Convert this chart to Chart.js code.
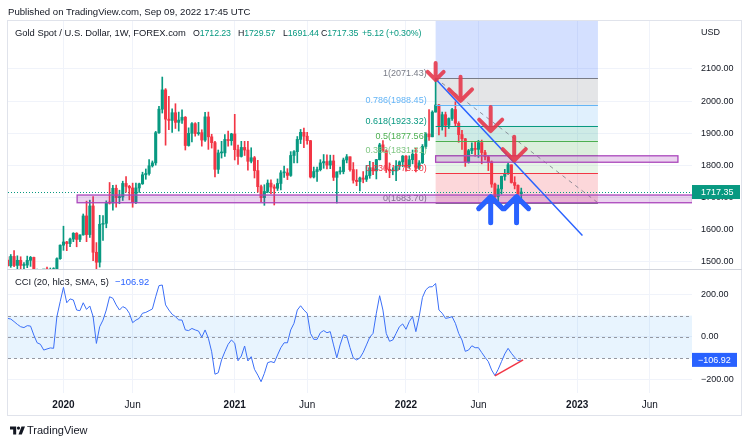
<!DOCTYPE html>
<html>
<head>
<meta charset="utf-8">
<title>Gold Spot / U.S. Dollar, 1W</title>
<script src="https://cdn.jsdelivr.net/npm/chart.js@4.4.0/dist/chart.umd.min.js"></script>
<style>
  html, body { margin: 0; padding: 0; background: #fff; }
  body { position: relative; width: 748px; height: 443px; overflow: hidden;
         font-family: 'Liberation Sans', Arial, sans-serif; color: #131722; }
  canvas { position: absolute; left: 0; }
  #priceChart { top: 0; }
  #cciChart { top: 270px; }
  .t { position: absolute; white-space: nowrap; font-size: 9.4px; line-height: 12px; z-index: 2; }
  .v { font-size: 8.8px; letter-spacing: -0.1px; }
  .g { color: #089981; }
  .frame { position: absolute; left: 7px; top: 20px; width: 735px; height: 396px; box-sizing: border-box;
           border: 1px solid #e0e3eb; z-index: 1; pointer-events: none; }
  .sep { position: absolute; left: 7px; top: 269px; width: 735px; height: 1px; background: #d1d4dc; z-index: 1; }
</style>
</head>
<body>
<canvas id="priceChart" width="748" height="270"></canvas>
<canvas id="cciChart" width="748" height="173"></canvas>
<div class="frame"></div>
<div class="sep"></div>

<div class="t" style="left:8px;top:6px;font-size:9.6px">Published on TradingView.com, Sep 09, 2022 17:45 UTC</div>
<div class="t" style="left:15px;top:27px">Gold Spot / U.S. Dollar, 1W, FOREX.com</div>
<div class="t v" style="left:193px;top:27px">O<span class="g">1712.23</span></div>
<div class="t v" style="left:238px;top:27px">H<span class="g">1729.57</span></div>
<div class="t v" style="left:283px;top:27px">L<span class="g">1691.44</span></div>
<div class="t v" style="left:321px;top:27px">C<span class="g">1717.35</span></div>
<div class="t v g" style="left:362px;top:27px">+5.12 (+0.30%)</div>
<div class="t" style="left:15px;top:276px">CCI (20, hlc3, SMA, 5)</div>
<div class="t" style="left:115px;top:276px;color:#2962ff">−106.92</div>
<div class="t" style="left:701px;top:26px;font-size:9px">USD</div>
<div class="t" style="left:10px;top:424px;font-size:11px;line-height:13px">
  <svg width="15" height="9" viewBox="0 0 17 9" style="vertical-align:-1px;margin-right:2px">
    <path d="M0 0H7V9H3.6V3.4H0Z" fill="#131722"/>
    <circle cx="9.6" cy="1.8" r="1.8" fill="#131722"/>
    <path d="M13 0H17L13.4 9H9.6Z" fill="#131722"/>
  </svg>TradingView</div>

<script>
// weekly bars, x = days counted from 1 Jan 2020
const weekStart = -114; // Mon 9 Sep 2019

const opens = [
  1506, 1488, 1517, 1489, 1505, 1489, 1490, 1505, 1514, 1459,
  1468, 1462, 1463, 1460, 1476, 1479, 1510, 1552, 1562, 1557,
  1571, 1589, 1570, 1584, 1643, 1585, 1674, 1530, 1499, 1617,
  1620, 1684, 1683, 1729, 1700, 1702, 1744, 1735, 1730, 1685,
  1730, 1743, 1771, 1775, 1799, 1808, 1902, 1975, 2035, 1944,
  1940, 1964, 1934, 1941, 1950, 1862, 1900, 1930, 1899, 1902,
  1879, 1951, 1889, 1871, 1788, 1839, 1839, 1881, 1877, 1898,
  1849, 1828, 1856, 1848, 1813, 1824, 1784, 1734, 1700, 1719,
  1745, 1733, 1729, 1744, 1777, 1777, 1769, 1831, 1843, 1881,
  1903, 1891, 1877, 1764, 1781, 1787, 1808, 1812, 1801, 1814,
  1763, 1780, 1781, 1817, 1827, 1787, 1754, 1750, 1761, 1757,
  1768, 1793, 1783, 1818, 1864, 1846, 1788, 1783, 1783, 1798,
  1811, 1829, 1797, 1818, 1835, 1791, 1808, 1859, 1898, 1889,
  1966, 1988, 1921, 1958, 1925, 1946, 1974, 1931, 1896, 1883,
  1811, 1846, 1853, 1850, 1871, 1840, 1827, 1811, 1742, 1703,
  1727, 1766, 1775, 1802, 1747, 1738, 1712.23
];
const highs = [
  1516, 1523, 1535, 1519, 1516, 1498, 1518, 1517, 1515, 1478,
  1475, 1466, 1484, 1481, 1482, 1513, 1553, 1611, 1564, 1574,
  1591, 1591, 1584, 1649, 1689, 1692, 1703, 1560, 1645, 1644,
  1690, 1747, 1738, 1739, 1723, 1751, 1765, 1738, 1745, 1745,
  1745, 1779, 1789, 1818, 1814, 1906, 1984, 2075, 2039, 2015,
  1976, 1992, 1966, 1973, 1952, 1917, 1933, 1933, 1934, 1911,
  1965, 1966, 1897, 1875, 1848, 1875, 1896, 1907, 1900, 1959,
  1863, 1875, 1875, 1875, 1855, 1828, 1816, 1739, 1740, 1755,
  1755, 1740, 1758, 1784, 1798, 1790, 1843, 1846, 1890, 1912,
  1916, 1903, 1878, 1795, 1795, 1818, 1834, 1833, 1832, 1832,
  1780, 1795, 1823, 1834, 1827, 1809, 1787, 1764, 1781, 1800,
  1813, 1810, 1819, 1869, 1877, 1849, 1808, 1793, 1815, 1814,
  1831, 1831, 1830, 1848, 1853, 1815, 1865, 1902, 1974, 1970,
  2071.43, 1990, 1966, 1966, 1948, 1978, 1998, 1936, 1909, 1884,
  1850, 1870, 1874, 1878, 1879, 1847, 1829, 1814, 1745, 1739,
  1767, 1788, 1807, 1802, 1765, 1740, 1729.57
];
const lows = [
  1485, 1483, 1485, 1459, 1474, 1474, 1482, 1486, 1456, 1445,
  1456, 1452, 1456, 1455, 1470, 1477, 1508, 1536, 1535, 1547,
  1563, 1547, 1563, 1583, 1563, 1576, 1504, 1451, 1484, 1567,
  1606, 1680, 1661, 1670, 1681, 1691, 1717, 1693, 1670, 1681,
  1716, 1741, 1757, 1770, 1795, 1801, 1900, 1963, 1863, 1911,
  1903, 1915, 1907, 1931, 1848, 1860, 1873, 1891, 1894, 1860,
  1875, 1850, 1854, 1764, 1775, 1823, 1828, 1860, 1863, 1817,
  1803, 1826, 1831, 1785, 1808, 1761, 1717, 1687, 1676, 1715,
  1712, 1677, 1722, 1724, 1763, 1756, 1766, 1808, 1808, 1868,
  1855, 1866, 1761, 1761, 1750, 1783, 1791, 1789, 1790, 1753,
  1683, 1773, 1774, 1808, 1782, 1745, 1737, 1721, 1746, 1750,
  1760, 1771, 1758, 1817, 1842, 1778, 1762, 1771, 1753, 1787,
  1796, 1782, 1791, 1805, 1780, 1788, 1806, 1852, 1878, 1889,
  1966, 1895, 1910, 1890, 1915, 1940, 1921, 1872, 1850, 1797,
  1807, 1837, 1829, 1825, 1805, 1817, 1784, 1732, 1697, 1681,
  1711, 1754, 1772, 1745, 1727, 1688, 1691.44
];
const closes = [
  1488, 1517, 1489, 1505, 1489, 1490, 1505, 1514, 1459, 1468,
  1462, 1463, 1460, 1476, 1479, 1510, 1552, 1562, 1557, 1571,
  1589, 1570, 1584, 1643, 1585, 1674, 1530, 1499, 1617, 1620,
  1684, 1683, 1729, 1700, 1702, 1744, 1735, 1730, 1685, 1730,
  1743, 1771, 1775, 1799, 1808, 1902, 1975, 2035, 1944, 1940,
  1964, 1934, 1941, 1950, 1862, 1900, 1930, 1899, 1902, 1879,
  1951, 1889, 1871, 1788, 1839, 1839, 1881, 1877, 1898, 1849,
  1828, 1856, 1848, 1813, 1824, 1784, 1734, 1700, 1719, 1745,
  1733, 1729, 1744, 1777, 1777, 1769, 1831, 1843, 1881, 1903,
  1891, 1877, 1764, 1781, 1787, 1808, 1812, 1801, 1814, 1763,
  1780, 1781, 1817, 1827, 1787, 1754, 1750, 1761, 1757, 1768,
  1793, 1783, 1818, 1864, 1846, 1788, 1783, 1783, 1798, 1811,
  1829, 1797, 1818, 1835, 1791, 1808, 1859, 1898, 1889, 1966,
  1988, 1921, 1958, 1925, 1946, 1974, 1931, 1896, 1883, 1811,
  1846, 1853, 1850, 1871, 1840, 1827, 1811, 1742, 1703, 1727,
  1766, 1775, 1802, 1747, 1738, 1712, 1717.35
];
const cci = [
  87, 84, 72, 59, 48, 44, 53, 51, 9, -27,
  -34, -61, -56, -51, -53, 95, 165, 232, 160, 178,
  173, 126, 123, 160, 129, 145, 95, -30, 48, 79,
  126, 188, 181, 150, 126, 142, 134, 111, 67, 79,
  87, 111, 115, 123, 131, 188, 240, 243, 150, 126,
  106, 95, 80, 79, 33, 30, 40, 33, 28, -1,
  33, -6, -69, -174, -167, -107, -69, -34, -14, -29,
  -111, -89, -42, -112, -92, -151, -178, -209, -170, -120,
  -115, -120, -84, -50, -27, -27, 33, 64, 126, 146,
  126, 111, 17, -11, -11, 20, 30, 20, 25, -37,
  -97, -37, 10, 5, -50, -98, -107, -98, -72, -37,
  -1, 17, 111, 193, 126, 17, -20, -14, 17, 48,
  61, 36, 72, 95, 25, 95, 185, 220, 234, 235,
  250, 126, 111, 87, 90, 95, 64, 17, -14, -67,
  -61, -41, -50, -50, -73, -95, -115, -154, -180, -151,
  -115, -79, -53, -76, -95, -111, -106.92
];

const xTicks = [5, 152, 369, 523, 733, 887, 1097, 1251];
const xTickLabels = ['2020', 'Jun', '2021', 'Jun', '2022', 'Jun', '2023', 'Jun'];
const priceTicks = [1500, 1600, 1700, 1800, 1900, 2000, 2100];
const cciTicks = [200, 0, -200];
const lastPrice = 1717.35;
const lastCci = -106.92;

// drawings on the chart
const fibLevels = [1.618, 1, 0.786, 0.618, 0.5, 0.382, 0.236, 0];
const fibLabels = ['', '1(2071.43)', '0.786(1988.45)', '0.618(1923.32)', '0.5(1877.56)', '0.382(1831.81)', '0.236(1775.20)', '0(1683.70)'];
const fibHigh = 2071.43, fibLow = 1683.70;
const fibDays = [796, 1141];
const zoneLower = [34, 1342, 1708, 1684]; // from, to, top, bottom
const zoneUpper = [796, 1311, 1830, 1810];
const trendLine = [[796, 2069], [1108, 1582]];
const sellArrows = [[796, 2066], [849, 2001], [913, 1907], [963, 1815]];
const buyArrows = [[913, 1703], [968, 1703]];
const cciDivergence = [[922, -182], [982, -107]];

const UP = '#089981', DOWN = '#f23645', GRID = '#f0f3fa';
const fibColors = ['#2962ff', '#787b86', '#64b5f6', '#089981', '#4caf50', '#81c784', '#f23645', '#787b86'];
const X_MIN = -112.9, X_MAX = 1340.9;

Chart.defaults.font.family = "'Liberation Sans', Arial, sans-serif";
Chart.defaults.color = '#131722';

const days = opens.map((_, i) => weekStart + 7 * i);
const candleColors = opens.map((o, i) => closes[i] >= o ? UP : DOWN);

function rgba(hex, a) {
  const n = parseInt(hex.slice(1), 16);
  return `rgba(${n >> 16},${(n >> 8) & 255},${n & 255},${a})`;
}
function fibPrice(l) { return fibLow + l * (fibHigh - fibLow); }

function arrow(ctx, x, y, len, arm, dir) {
  ctx.beginPath();
  ctx.moveTo(x, y - dir * len); ctx.lineTo(x, y);
  ctx.moveTo(x - arm, y - dir * arm); ctx.lineTo(x, y); ctx.lineTo(x + arm, y - dir * arm);
  ctx.stroke();
}

function fixedY(width) {
  return s => { s.width = width; s.paddingTop = 0; s.paddingBottom = 0; };
}

const priceDrawings = {
  id: 'priceDrawings',
  beforeDatasetsDraw(chart) {
    const { ctx, chartArea: a, scales: { x, y } } = chart;
    ctx.save();
    ctx.beginPath(); ctx.rect(a.left, a.top, a.width, a.height); ctx.clip();
    const x1 = x.getPixelForValue(fibDays[0]), x2 = x.getPixelForValue(fibDays[1]);
    for (let k = 0; k < fibLevels.length - 1; k++) {
      const yt = y.getPixelForValue(fibPrice(fibLevels[k]));
      const yb = y.getPixelForValue(fibPrice(fibLevels[k + 1]));
      ctx.fillStyle = rgba(fibColors[k], 0.2);
      ctx.fillRect(x1, yt, x2 - x1, yb - yt);
    }
    // last price dotted line
    const yl = Math.round(y.getPixelForValue(lastPrice)) + 0.5;
    ctx.strokeStyle = UP; ctx.lineWidth = 1; ctx.setLineDash([1, 2]);
    ctx.beginPath(); ctx.moveTo(a.left, yl); ctx.lineTo(a.right, yl); ctx.stroke();
    ctx.restore();
  },
  afterDatasetsDraw(chart) {
    const { ctx, chartArea: a, scales: { x, y } } = chart;
    ctx.save();
    ctx.beginPath(); ctx.rect(a.left, a.top, a.width, a.height); ctx.clip();
    const x1 = x.getPixelForValue(fibDays[0]), x2 = x.getPixelForValue(fibDays[1]);

    // fib level lines and labels
    ctx.font = "9px 'Liberation Sans', Arial, sans-serif";
    ctx.textAlign = 'right'; ctx.textBaseline = 'alphabetic';
    for (let k = 1; k < fibLevels.length; k++) {
      const yy = Math.round(y.getPixelForValue(fibPrice(fibLevels[k]))) + 0.5;
      ctx.strokeStyle = fibColors[k]; ctx.lineWidth = 1;
      ctx.beginPath(); ctx.moveTo(x1, yy); ctx.lineTo(x2, yy); ctx.stroke();
      ctx.fillStyle = fibColors[k];
      ctx.fillText(fibLabels[k], x1 - 9, yy - 3);
    }
    // fib diagonal
    ctx.strokeStyle = rgba('#787b86', 0.8); ctx.setLineDash([4, 4]);
    ctx.beginPath();
    ctx.moveTo(x1, y.getPixelForValue(fibHigh));
    ctx.lineTo(x2, y.getPixelForValue(fibLow));
    ctx.stroke();
    ctx.setLineDash([]);

    // zones
    [zoneLower, zoneUpper].forEach(z => {
      const zx1 = x.getPixelForValue(z[0]), zx2 = x.getPixelForValue(z[1]);
      const zy1 = y.getPixelForValue(z[2]), zy2 = y.getPixelForValue(z[3]);
      ctx.fillStyle = 'rgba(156,39,176,0.2)';
      ctx.fillRect(zx1, zy1, zx2 - zx1, zy2 - zy1);
      ctx.strokeStyle = '#ab47bc'; ctx.lineWidth = 1.3;
      ctx.strokeRect(zx1, zy1, zx2 - zx1, zy2 - zy1);
    });

    // trend line
    ctx.strokeStyle = '#2962ff'; ctx.lineWidth = 1.5;
    ctx.beginPath();
    ctx.moveTo(x.getPixelForValue(trendLine[0][0]), y.getPixelForValue(trendLine[0][1]));
    ctx.lineTo(x.getPixelForValue(trendLine[1][0]), y.getPixelForValue(trendLine[1][1]));
    ctx.stroke();

    // arrows
    ctx.lineCap = 'round'; ctx.lineJoin = 'round';
    ctx.strokeStyle = 'rgba(229,57,76,0.9)'; ctx.lineWidth = 4;
    sellArrows.forEach((p, k) => {
      const big = k > 0;
      arrow(ctx, x.getPixelForValue(p[0]), y.getPixelForValue(p[1]), big ? 24 : 17, big ? 11.5 : 8, 1);
    });
    ctx.strokeStyle = '#2962ff'; ctx.lineWidth = 5;
    buyArrows.forEach(p => {
      arrow(ctx, x.getPixelForValue(p[0]), y.getPixelForValue(p[1]), 26, 12, -1);
    });
    ctx.restore();
  },
  afterDraw(chart) {
    const { ctx, chartArea: a, scales: { y } } = chart;
    const yy = y.getPixelForValue(lastPrice);
    ctx.save();
    ctx.fillStyle = UP;
    ctx.fillRect(a.right, yy - 7, 48, 14);
    ctx.fillStyle = '#fff';
    ctx.font = "9px 'Liberation Sans', Arial, sans-serif";
    ctx.textAlign = 'left'; ctx.textBaseline = 'middle';
    ctx.fillText(lastPrice.toFixed(2), a.right + 9, yy + 0.5);
    ctx.restore();
  }
};

const cciDrawings = {
  id: 'cciDrawings',
  beforeDatasetsDraw(chart) {
    const { ctx, chartArea: a, scales: { y } } = chart;
    const yt = y.getPixelForValue(100), yb = y.getPixelForValue(-100);
    ctx.save();
    ctx.fillStyle = 'rgba(33,150,243,0.1)';
    ctx.fillRect(a.left, yt, a.width, yb - yt);
    ctx.strokeStyle = '#9598a1'; ctx.lineWidth = 1; ctx.setLineDash([3, 3]);
    [100, 0, -100].forEach(v => {
      const yy = Math.round(y.getPixelForValue(v)) + 0.5;
      ctx.beginPath(); ctx.moveTo(a.left, yy); ctx.lineTo(a.right, yy); ctx.stroke();
    });
    ctx.restore();
  },
  afterDatasetsDraw(chart) {
    const { ctx, scales: { x, y } } = chart;
    ctx.save();
    ctx.strokeStyle = '#f23645'; ctx.lineWidth = 1.5;
    ctx.beginPath();
    ctx.moveTo(x.getPixelForValue(cciDivergence[0][0]), y.getPixelForValue(cciDivergence[0][1]));
    ctx.lineTo(x.getPixelForValue(cciDivergence[1][0]), y.getPixelForValue(cciDivergence[1][1]));
    ctx.stroke();
    ctx.restore();
  },
  afterDraw(chart) {
    const { ctx, chartArea: a, scales: { y } } = chart;
    const yy = y.getPixelForValue(lastCci);
    ctx.save();
    ctx.fillStyle = '#2962ff';
    ctx.fillRect(a.right, yy - 7, 45, 14);
    ctx.fillStyle = '#fff';
    ctx.font = "9px 'Liberation Sans', Arial, sans-serif";
    ctx.textAlign = 'left'; ctx.textBaseline = 'middle';
    ctx.fillText('−' + Math.abs(lastCci).toFixed(2), a.right + 6, yy + 0.5);
    ctx.restore();
  }
};

const xScaleBase = {
  type: 'linear', min: X_MIN, max: X_MAX, offset: false,
  afterBuildTicks: s => { s.ticks = xTicks.map(v => ({ value: v })); },
  grid: { color: GRID, drawTicks: false, offset: false },
  border: { display: false }
};

new Chart(document.getElementById('priceChart'), {
  type: 'bar',
  data: {
    datasets: [
      {
        data: days.map((d, i) => ({ x: d, y: [lows[i], highs[i]] })),
        backgroundColor: candleColors, barThickness: 1, grouped: false, order: 2
      },
      {
        data: days.map((d, i) => ({ x: d, y: [opens[i], closes[i]] })),
        backgroundColor: candleColors, barThickness: 2.4, minBarLength: 1, grouped: false, order: 1
      }
    ]
  },
  options: {
    responsive: false, animation: false, devicePixelRatio: 1,
    layout: { padding: { left: 8, right: 6, top: 20, bottom: 0 } },
    plugins: { legend: { display: false }, tooltip: { enabled: false } },
    scales: {
      x: Object.assign({}, xScaleBase, {
        ticks: { display: false },
        afterFit: s => { s.height = 0; s.paddingLeft = 0; s.paddingRight = 0; }
      }),
      y: {
        position: 'right', min: 1474.8, max: 2252.4,
        afterBuildTicks: s => { s.ticks = priceTicks.map(v => ({ value: v })); },
        ticks: { padding: 9, font: { size: 9 }, callback: v => v.toFixed(2) },
        grid: { color: GRID, drawTicks: false },
        border: { display: false },
        afterFit: fixedY(50)
      }
    }
  },
  plugins: [priceDrawings]
});

new Chart(document.getElementById('cciChart'), {
  type: 'line',
  data: {
    datasets: [{
      data: days.map((d, i) => ({ x: d, y: cci[i] })),
      borderColor: '#3b6ff7', borderWidth: 1, pointRadius: 0, tension: 0, fill: false
    }]
  },
  options: {
    responsive: false, animation: false, devicePixelRatio: 1,
    layout: { padding: { left: 8, right: 6, top: 0, bottom: 28 } },
    plugins: { legend: { display: false }, tooltip: { enabled: false } },
    scales: {
      x: Object.assign({}, xScaleBase, {
        ticks: {
          padding: 6, maxRotation: 0, autoSkip: false,
          callback: v => xTickLabels[xTicks.indexOf(v)],
          font: c => ({ size: 10, weight: /^\d/.test(xTickLabels[xTicks.indexOf(c.tick ? c.tick.value : 0)] || '') ? 'bold' : 'normal' })
        },
        afterFit: s => { s.height = 22; s.paddingLeft = 0; s.paddingRight = 0; }
      }),
      y: {
        position: 'right', min: -261.7, max: 313.1,
        afterBuildTicks: s => { s.ticks = cciTicks.map(v => ({ value: v })); },
        ticks: { padding: 9, font: { size: 9 }, callback: v => (v < 0 ? '−' : '') + Math.abs(v).toFixed(2) },
        grid: { color: GRID, drawTicks: false },
        border: { display: false },
        afterFit: fixedY(50)
      }
    }
  },
  plugins: [cciDrawings]
});
</script>
</body>
</html>
